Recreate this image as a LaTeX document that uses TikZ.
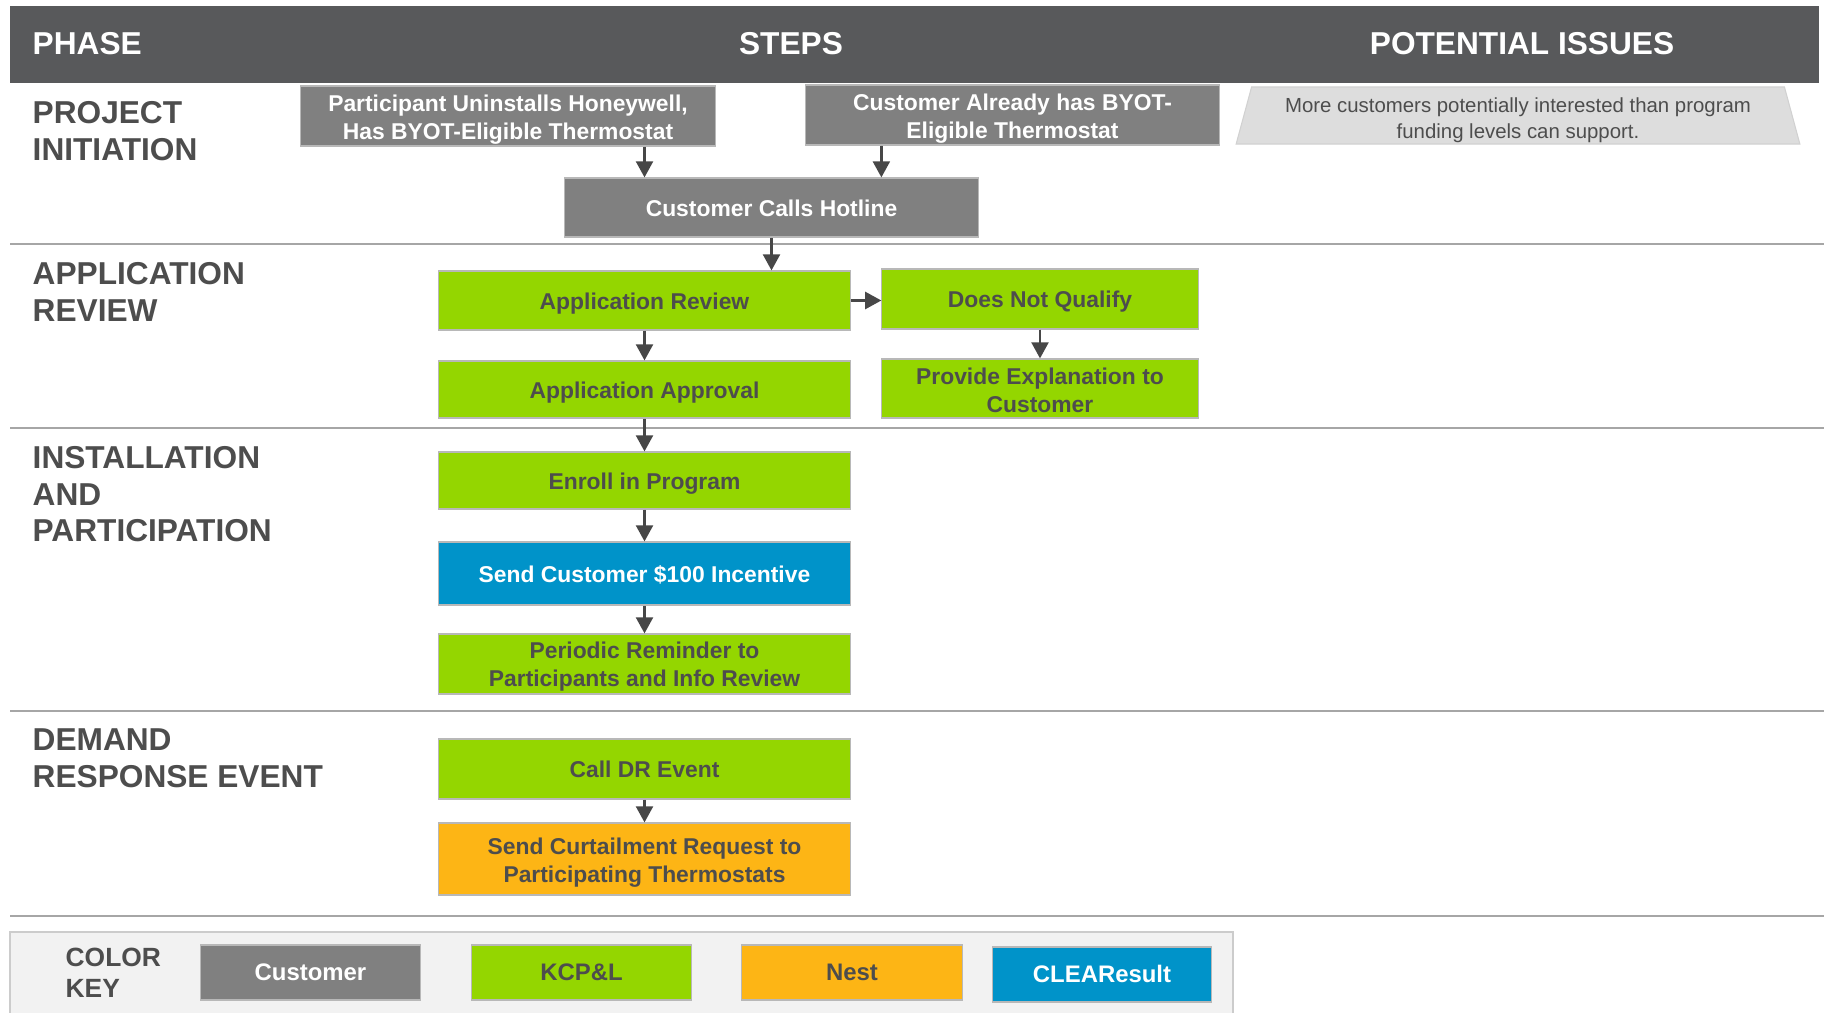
\documentclass[tikz,border=0pt]{standalone}
\usepackage{fontspec}
\setmainfont{Liberation Sans}
\usepackage{tikz}
\usetikzlibrary{shapes,arrows.meta}

\definecolor{headgray}{RGB}{88,89,91}
\definecolor{custgray}{RGB}{128,128,128}
\definecolor{kcpgreen}{RGB}{148,214,0}
\definecolor{nestorange}{RGB}{253,181,21}
\definecolor{clearblue}{RGB}{0,147,201}
\definecolor{textgray}{RGB}{77,77,77}
\definecolor{issuegray}{RGB}{221,221,221}
\definecolor{keygray}{RGB}{242,242,242}
\definecolor{linegray}{RGB}{166,166,166}

\newcommand{\headfont}{\bfseries\fontsize{9}{10.4}\selectfont}
\newcommand{\phasefont}{\bfseries\fontsize{9}{10.4}\selectfont}
\newcommand{\boxfont}{\bfseries\fontsize{6.5}{8}\selectfont}
\newcommand{\issuefont}{\fontsize{5.8}{7.3}\selectfont}
\newcommand{\keyfont}{\bfseries\fontsize{7.5}{8.8}\selectfont}
\newcommand{\keyboxfont}{\bfseries\fontsize{6.8}{8}\selectfont}
% pushes a two-line text a little down in its box
\newcommand{\lift}[1]{\rule{0pt}{#1}}

\tikzset{
  box/.style={rectangle, draw=black!28, line width=0.3pt, inner sep=0pt, align=center, font=\boxfont},
  single/.style={text height=6.5pt, text depth=1.4pt},
  customer/.style={box, fill=custgray, text=white},
  kcpl/.style={box, fill=kcpgreen, text=textgray},
  nest/.style={box, fill=nestorange, text=textgray},
  clear/.style={box, fill=clearblue, text=white},
  key/.style={single, font=\keyboxfont, text height=6pt, minimum height=0.55cm},
  phase/.style={anchor=north west, inner sep=0pt, align=left, text=textgray, font=\phasefont},
  arr/.style={-{Triangle[length=4.6pt, width=4.8pt]}, draw=black!72, fill=black!72, line width=0.8pt},
  sep/.style={draw=linegray, line width=0.8pt},
}

\begin{document}
\begin{tikzpicture}[x=0.01cm, y=-0.01cm]
    % frame
    \useasboundingbox (0,0) rectangle (1824,1013);
    \fill[white] (0,0) rectangle (1824,1013);

    % header
    \fill[headgray] (10,6) rectangle (1819,83);
    \node[anchor=west, inner sep=0pt, text=white, font=\headfont] (hp) at (32,44) {PHASE};
    \node[inner sep=0pt, text=white, font=\headfont] (hs) at (791,44) {STEPS};
    \node[inner sep=0pt, text=white, font=\headfont] (hi) at (1522,44) {POTENTIAL ISSUES};

    % separators
    \foreach \y in {244,428,711,916}
      \draw[sep] (10,\y) -- (1824,\y);

    % phases
    \node[phase] (l1) at (32,101) {PROJECT\\INITIATION};
    \node[phase] (l2) at (32,262) {APPLICATION\\REVIEW};
    \node[phase] (l3) at (32,446) {INSTALLATION\\AND\\PARTICIPATION};
    \node[phase] (l4) at (32,728) {DEMAND\\RESPONSE EVENT};

    % steps
    \node[customer, minimum width=4.14cm, minimum height=0.60cm] (c1) at (508,116)
      {\lift{6.7pt}Participant Uninstalls Honeywell,\\Has BYOT-Eligible Thermostat};
    \node[customer, minimum width=4.13cm, minimum height=0.60cm] (c2) at (1012.5,115)
      {\lift{6.7pt}Customer Already has BYOT-\\Eligible Thermostat};
    \node[trapezium, trapezium angle=76, trapezium stretches=true,
          minimum width=5.64cm, minimum height=0.57cm, fill=issuegray, draw=black!18,
          line width=0.3pt, inner sep=0pt, align=center, text=textgray, font=\issuefont] (iss) at (1518,115.5)
      {\lift{6.9pt}More customers potentially interested than program\\funding levels can support.};
    \node[customer, single, minimum width=4.13cm, minimum height=0.59cm] (h) at (771.5,207.5) {Customer Calls Hotline};
    \node[kcpl, single, minimum width=4.11cm, minimum height=0.59cm] (r) at (644.5,300.5) {Application Review};
    \node[kcpl, single, minimum width=3.16cm, minimum height=0.60cm] (n) at (1040,299) {Does Not Qualify};
    \node[kcpl, single, minimum width=4.11cm, minimum height=0.57cm] (a) at (644.5,389.5) {Application Approval};
    \node[kcpl, minimum width=3.16cm, minimum height=0.59cm] (e) at (1040,388.5)
      {\lift{5.8pt}Provide Explanation to\\Customer};
    \node[kcpl, single, minimum width=4.11cm, minimum height=0.57cm] (en) at (644.5,480.5) {Enroll in Program};
    \node[clear, single, minimum width=4.11cm, minimum height=0.63cm] (inc) at (644.5,573.5) {Send Customer \$100 Incentive};
    \node[kcpl, minimum width=4.11cm, minimum height=0.60cm] (rem) at (644.5,664)
      {\lift{6.4pt}Periodic Reminder to\\Participants and Info Review};
    \node[kcpl, single, minimum width=4.11cm, minimum height=0.60cm] (dr) at (644.5,769) {Call DR Event};
    \node[nest, minimum width=4.11cm, minimum height=0.72cm] (cur) at (644.5,859)
      {\lift{6.9pt}Send Curtailment Request to\\Participating Thermostats};

    % arrows
    \draw[arr] (c1.south -| r.north) -- (h.north -| r.north);
    \draw[arr] (c2.south -| n.west) -- (h.north -| n.west);
    \draw[arr] (h.south) -- (h.south |- r.north);
    \draw[arr] (r.east) -- (r.east -| n.west);
    \draw[arr] (r) -- (a);
    \draw[arr] (n) -- (e);
    \draw[arr] (a) -- (en);
    \draw[arr] (en) -- (inc);
    \draw[arr] (inc) -- (rem);
    \draw[arr] (dr) -- (cur);

    % color key
    \filldraw[fill=keygray, draw=black!20, line width=0.4pt] (10,1013) -- (10,932) -- (1233,932) -- (1233,1013);
    \node[phase, font=\keyfont] (kl) at (65,947) {COLOR\\KEY};
    \node[customer, key, minimum width=2.19cm] (kc) at (310.5,972.5) {Customer};
    \node[kcpl, key, minimum width=2.19cm] (kk) at (581.5,972.5) {KCP\&L};
    \node[nest, key, minimum width=2.20cm] (kn) at (852,972.5) {Nest};
    \node[clear, key, minimum width=2.18cm] (kb) at (1102,974.5) {CLEAResult};
\end{tikzpicture}
\end{document}
